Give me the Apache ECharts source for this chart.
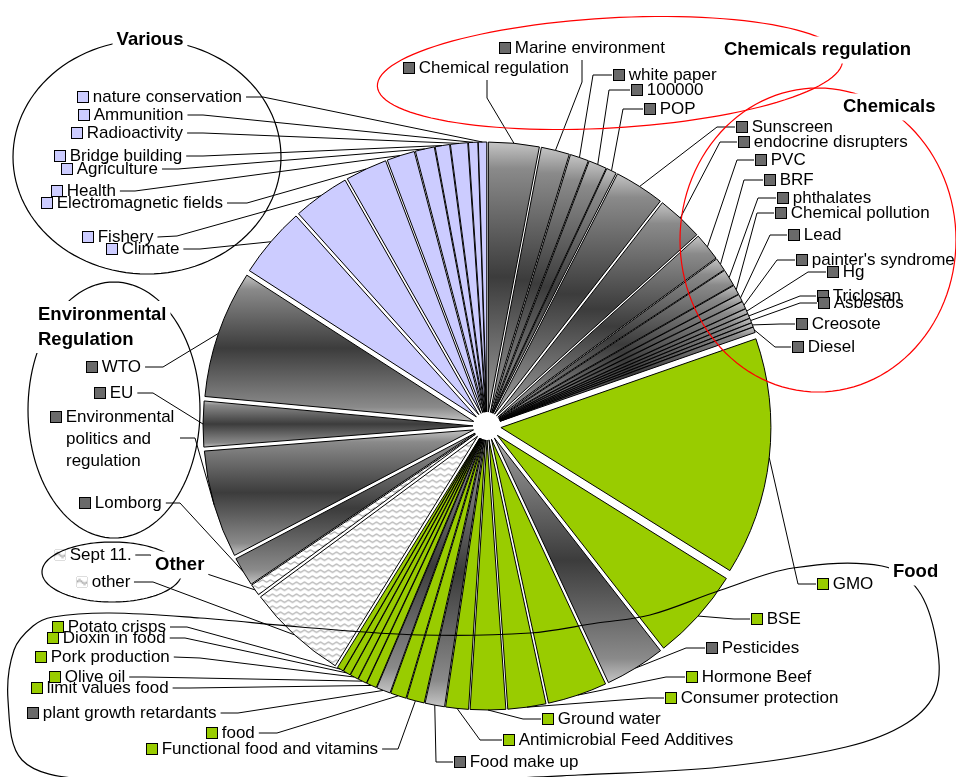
<!DOCTYPE html>
<html><head><meta charset="utf-8">
<script src="https://cdn.jsdelivr.net/npm/echarts@6/dist/echarts.min.js"></script>
<style>html,body{margin:0;padding:0;background:#fff}#c{width:956px;height:777px}</style>
</head><body><div id="c"></div>
<script>
// ---------- data ----------
const names = ['Chemical regulation','Marine environment','white paper','100000','POP',
 'Sunscreen','endocrine disrupters','PVC','BRF','phthalates','Chemical pollution','Lead',"painter's syndrome",'Hg','Triclosan','Asbestos','Creosote','Diesel',
 'GMO','BSE','Pesticides','Hormone Beef','Consumer protection','Ground water','Antimicrobial Feed Additives','Food make up','Functional food and vitamins','food','plant growth retardants','limit values food','Olive oil','Pork production','Dioxin in food','Potato crisps',
 'other','Sept 11.',
 'Lomborg','Environmental politics and regulation','EU','WTO',
 'Climate','Fishery','Electromagnetic fields','Health','Agriculture','Bridge building','Radioactivity','Ammunition','nature conservation'];
const values = [10.9,6.1,4.0,3.9,2.2,
 10.8,10.0,6.0,2.8,3.6,2.1,1.6,1.6,1.1,1.0,1.0,0.9,1.2,
 51.2,20,13,12.8,8.2,7.6,4.9,4.2,3.8,3.4,3.0,2.2,1.9,1.8,1.6,1.4,
 21.7,2.5,
 6.3,23.2,9.8,27.5,
 15.3,12.2,9.0,6.0,4.1,3.1,3.7,2.0,1.8];
const kinds = ['g','g','g','g','g',
 'g','g','g','g','g','g','g','g','g','g','g','g','g',
 'f','f','g','f','f','f','f','g','f','f','g','f','f','f','f','f',
 'o','o',
 'g','g','g','g',
 'v','v','v','v','v','v','v','v','v'];
const groupTitles = ['Various','Chemicals regulation','Chemicals','Environmental\nRegulation','Other','Food'];

// ---------- layout / style ----------
const CX = 487, CY = 426, R = 270, OFF = 14;
const FONT = '"Liberation Sans", Arial, sans-serif';
const labelPos = {
 'Chemical regulation':{x:404,y:68,elbow:[487,98],end:[487,80]},
 'Marine environment':{x:500,y:48,elbow:[582,82],end:[582,60]},
 'white paper':{x:614,y:75,elbow:[593,75]},
 '100000':{x:632,y:90,elbow:[609,90]},
 'POP':{x:645,y:109,elbow:[623,109]},
 'Sunscreen':{x:737,y:127,elbow:[717,127]},
 'endocrine disrupters':{x:739,y:142,elbow:[720,142]},
 'PVC':{x:756,y:160,elbow:[737,160]},
 'BRF':{x:765,y:180,elbow:[744,180]},
 'phthalates':{x:778,y:198,elbow:[758,198]},
 'Chemical pollution':{x:776,y:213,elbow:[757,213]},
 'Lead':{x:789,y:235,elbow:[770,235]},
 "painter's syndrome":{x:797,y:260,elbow:[777,260]},
 'Hg':{x:828,y:272,elbow:[808,272]},
 'Triclosan':{x:818,y:296,elbow:[800,296]},
 'Asbestos':{x:819,y:303,elbow:[800,303]},
 'Creosote':{x:797,y:324,elbow:[780,324]},
 'Diesel':{x:793,y:347,elbow:[775,347]},
 'GMO':{x:818,y:584,elbow:[798,584]},
 'BSE':{x:752,y:619,elbow:[734,619]},
 'Pesticides':{x:707,y:648,elbow:[686,648]},
 'Hormone Beef':{x:687,y:677,elbow:[666,677]},
 'Consumer protection':{x:666,y:698,elbow:[648,698]},
 'Ground water':{x:543,y:719,elbow:[523,719]},
 'Antimicrobial Feed Additives':{x:504,y:740,elbow:[480,740]},
 'Food make up':{x:455,y:762,elbow:[436,762]},
 'Functional food and vitamins':{x:147,y:749,elbow:[398,749],side:'l'},
 'food':{x:207,y:733,elbow:[277,733],side:'l'},
 'plant growth retardants':{x:28,y:713,elbow:[238,713],side:'l'},
 'limit values food':{x:32,y:688,elbow:[190,688],side:'l'},
 'Olive oil':{x:50,y:677,elbow:[145,677],side:'l'},
 'Pork production':{x:36,y:657,elbow:[200,658],side:'l'},
 'Dioxin in food':{x:48,y:638,elbow:[185,638],side:'l'},
 'Potato crisps':{x:53,y:627,elbow:[187,627],side:'l'},
 'other':{x:77,y:582,elbow:[153,582],side:'l'},
 'Sept 11.':{x:55,y:555,elbow:[150,555],side:'l'},
 'Lomborg':{x:80,y:503,elbow:[180,503],side:'l'},
 'Environmental politics and regulation':{x:51,y:439,elbow:[195,438],end:[180,438]},
 'EU':{x:95,y:393,elbow:[153,393],side:'l'},
 'WTO':{x:87,y:367,elbow:[163,367],side:'l'},
 'nature conservation':{x:78,y:97,elbow:[263,97],side:'l'},
 'Ammunition':{x:79,y:115,elbow:[203,115],side:'l'},
 'Radioactivity':{x:72,y:133,elbow:[203,133],side:'l'},
 'Bridge building':{x:55,y:156,elbow:[203,156],side:'l'},
 'Agriculture':{x:62,y:169,elbow:[178,169],side:'l'},
 'Health':{x:52,y:191,elbow:[135,191],side:'l'},
 'Electromagnetic fields':{x:42,y:203,elbow:[247,203],side:'l'},
 'Fishery':{x:83,y:237,elbow:[177,236],side:'l'},
 'Climate':{x:107,y:249,elbow:[200,249],side:'l'}
};

// wavy pattern for "Other"
const pc = document.createElement('canvas'); pc.width = 8; pc.height = 6;
(function(){const c=pc.getContext('2d');c.fillStyle='#fff';c.fillRect(0,0,8,6);
 c.strokeStyle='#8e8e8e';c.lineWidth=1;c.beginPath();c.moveTo(0,3);
 c.quadraticCurveTo(2,0.4,4,3);c.quadraticCurveTo(6,5.6,8,3);c.stroke();})();
const pattern = {image: pc, repeat: 'repeat'};

const grayGrad = () => new echarts.graphic.LinearGradient(0,0,0,1,[
  {offset:0,color:'#c6c6c6'},{offset:0.1,color:'#8a8a8a'},{offset:0.5,color:'#3c3c3c'},
  {offset:0.9,color:'#8a8a8a'},{offset:1,color:'#c6c6c6'}]);
function colorFor(k){
  if (k==='g') return grayGrad();
  if (k==='v') return '#ccccff';
  if (k==='f') return '#99cc00';
  return pattern;
}

const sq = (bg, bc) => ({width:10,height:10,backgroundColor:bg,borderColor:bc||'#000',borderWidth:1,verticalAlign:'middle'});
const rich = {g:sq('#6a6a6a'), v:sq('#ccccff'), f:sq('#99cc00'), o:sq({image:pc,repeat:'repeat'},'#bbbbbb'), ind:{width:15}};

function fmt(p){
  const k = kinds[p.dataIndex], n = names[p.dataIndex];
  if (n === 'Environmental politics and regulation')
    return '{'+k+'|} Environmental\n{ind|}politics and\n{ind|}regulation';
  return '{'+k+'|} '+n;
}

function layoutLabel(params){
  const n = names[params.dataIndex];
  const L = labelPos[n];
  const pts = params.labelLinePoints;
  if (!L || !pts) return {};
  const dx = pts[0][0]-CX, dy = pts[0][1]-CY;
  const d = Math.sqrt(dx*dx+dy*dy) || 1;
  const p0 = [CX+dx/d*(R+OFF), CY+dy/d*(R+OFF)];
  const w = params.labelRect.width;
  let end;
  if (L.end) end = L.end;
  else if (L.side === 'l') end = [L.x+w+3, L.y];
  else end = [L.x-2, L.y];
  return {x:L.x, y:L.y, align:'left', verticalAlign:'middle', labelLinePoints:[p0, L.elbow, end]};
}

function ellipsePts(cx, cy, rx, ry, rot){
  const a = (rot||0)*Math.PI/180, out=[];
  for (let i=0;i<120;i++){const t=i/120*2*Math.PI;const x=rx*Math.cos(t),y=ry*Math.sin(t);
    out.push([cx+x*Math.cos(a)-y*Math.sin(a), cy+x*Math.sin(a)+y*Math.cos(a)]);}
  return out;
}
const foodCurve = [[53,617],[110,613],[200,618],[300,627],[420,635],[530,633],[597,623],[650,615],[721,590],[793,568],[882,566],[918,590],[936,640],[936,690],[907,723],[846,747],[721,767],[578,775],[489,779],[300,782],[83,779],[22,760],[8,700],[14,650],[33,626]];

function shape(points, color, smooth){
  return {type:'polygon', z:100, silent:true, shape:{points:points, smooth:smooth||0},
    style:{fill:'none', stroke:color, lineWidth:1.2}};
}
function title(text, x, y, align){
  return {type:'text', z:101, silent:true, x:x, y:y,
    style:{text:text, font:'bold 18.5px '+FONT, fill:'#000', align:align||'left', verticalAlign:'middle',
      backgroundColor:'#fff', padding:[1,4], lineHeight:25}};
}

const chart = echarts.init(document.getElementById('c'));
chart.setOption({
  animation:false,
  backgroundColor:'#fff',
  graphic:[
    shape(ellipsePts(147,157,134,117), '#000'),
    shape(ellipsePts(114,410,86,128), '#000'),
    shape(ellipsePts(112,572,70,30), '#000'),
    shape(foodCurve, '#000', 0.35),
    shape(ellipsePts(610,73,233,55,-3.3), '#ff0000'),
    shape(ellipsePts(818,240,138,152), '#ff0000'),
    title(groupTitles[0], 150, 40, 'center'),
    title(groupTitles[1], 720, 50),
    title(groupTitles[2], 839, 107),
    title(groupTitles[3], 34, 327),
    title(groupTitles[4], 151, 565),
    title(groupTitles[5], 889, 572)
  ],
  series:[{
    // exploded, coloured slices
    type:'pie', center:[CX,CY], radius:[0,R], startAngle:90, clockwise:true, z:2,
    avoidLabelOverlap:false, selectedMode:'multiple', selectedOffset:OFF, silent:true,
    itemStyle:{borderColor:'#000', borderWidth:1},
    emphasis:{disabled:true},
    label:{show:false}, labelLine:{show:false},
    data: names.map((n,i)=>({name:n, value:values[i], selected:true, itemStyle:{color:colorFor(kinds[i])}}))
  },{
    // same data, transparent: carries the labels and leader lines
    type:'pie', center:[CX,CY], radius:[0,R], startAngle:90, clockwise:true, z:3,
    avoidLabelOverlap:false, silent:true,
    itemStyle:{color:'rgba(0,0,0,0)', borderWidth:0},
    emphasis:{disabled:true},
    label:{show:true, position:'outside', formatter:fmt, rich:rich,
      fontFamily:FONT, fontSize:17, color:'#000', lineHeight:22},
    labelLine:{show:true, length:10, length2:10, lineStyle:{color:'#000', width:1}},
    labelLayout: layoutLabel,
    data: names.map((n,i)=>({name:n, value:values[i]}))
  }]
});
</script>
</body></html>
